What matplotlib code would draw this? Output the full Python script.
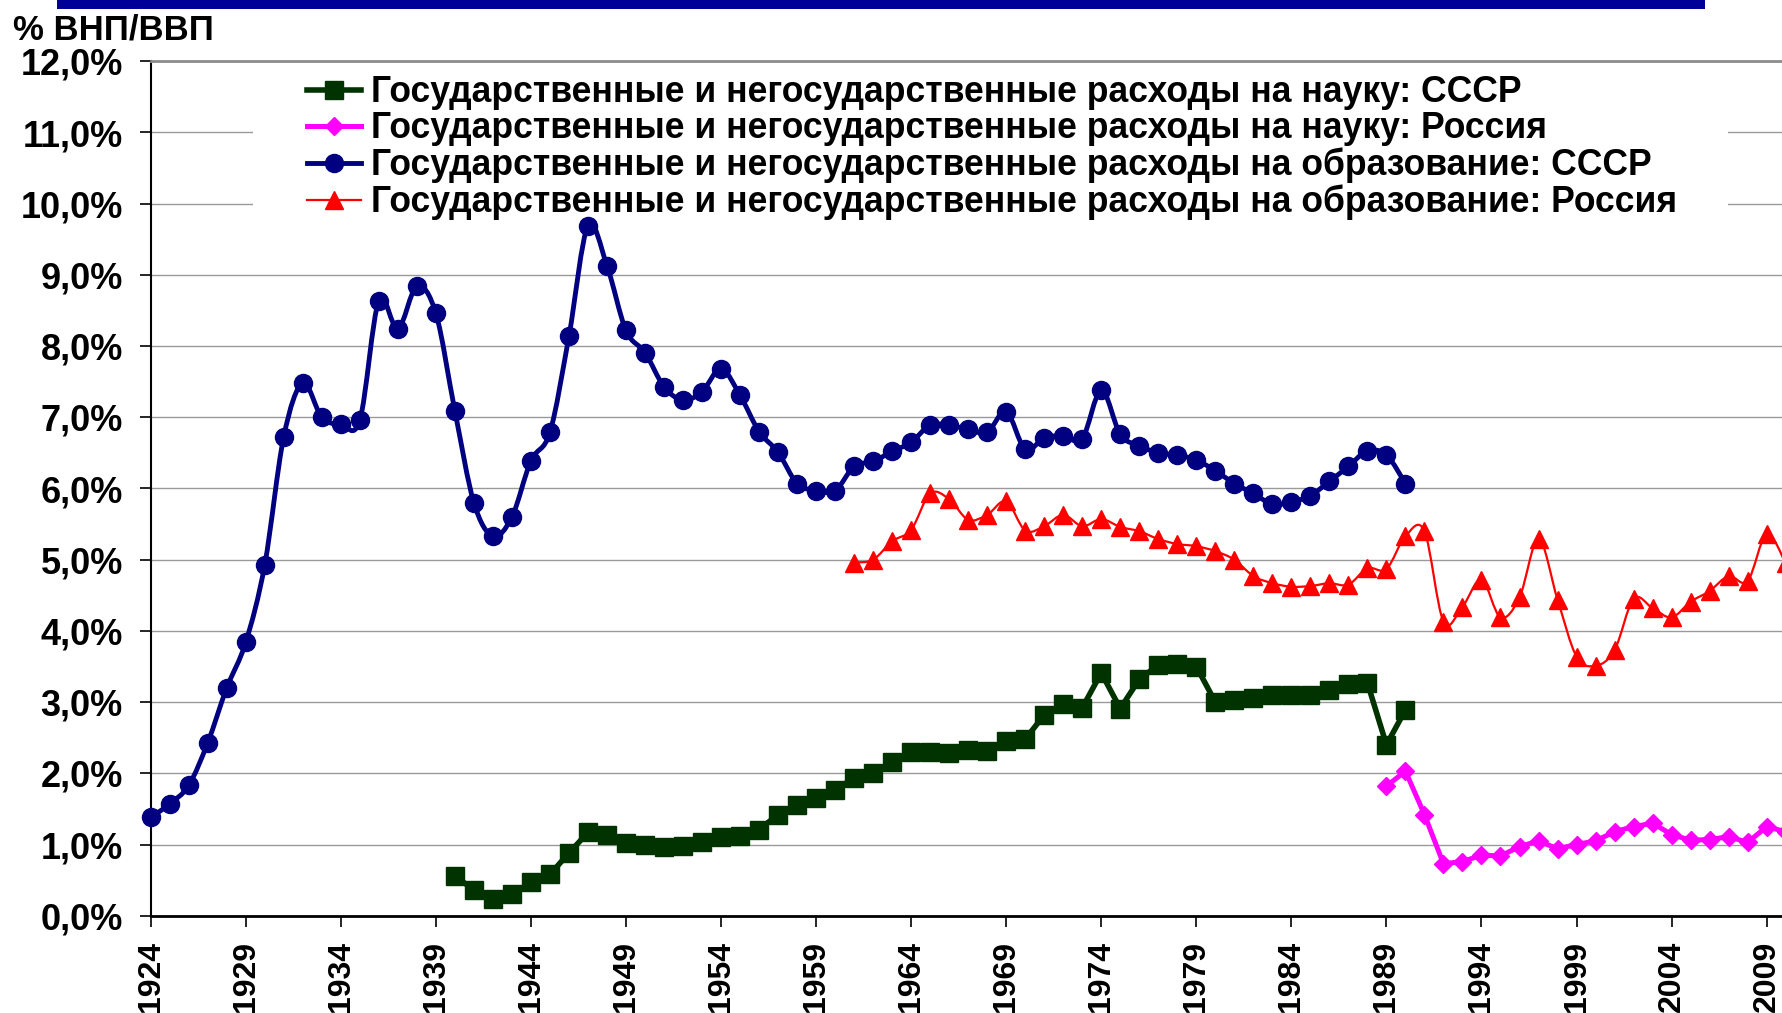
import numpy as np
import matplotlib
matplotlib.use('Agg')
import matplotlib.pyplot as plt
from matplotlib.path import Path
from matplotlib.patches import PathPatch, Rectangle
from matplotlib.lines import Line2D

plt.rcParams['font.family'] = ['Liberation Sans', 'DejaVu Sans']
plt.rcParams['font.weight'] = 'bold'

# --- data (% of GNP/GDP) ---
edu_ussr_years = list(range(1924, 1991))
edu_ussr = [1.38, 1.57, 1.83, 2.43, 3.20, 3.84, 4.93, 6.73, 7.48, 7.00,
            6.90, 6.96, 8.64, 8.24, 8.84, 8.46, 7.09, 5.80, 5.33, 5.60,
            6.39, 6.79, 8.14, 9.69, 9.13, 8.22, 7.91, 7.43, 7.24, 7.36,
            7.68, 7.31, 6.80, 6.51, 6.07, 5.97, 5.97, 6.31, 6.38, 6.52,
            6.65, 6.89, 6.89, 6.83, 6.79, 7.08, 6.55, 6.71, 6.74, 6.70,
            7.38, 6.76, 6.60, 6.50, 6.47, 6.40, 6.25, 6.07, 5.93, 5.78,
            5.81, 5.90, 6.10, 6.31, 6.53, 6.47, 6.07]

edu_rus_years = list(range(1961, 2011))
edu_rus = [4.96, 5.00, 5.26, 5.42, 5.93, 5.85, 5.56, 5.63, 5.82, 5.41,
           5.47, 5.63, 5.47, 5.57, 5.46, 5.40, 5.29, 5.22, 5.19, 5.12,
           5.00, 4.77, 4.67, 4.62, 4.63, 4.67, 4.65, 4.88, 4.87, 5.33,
           5.40, 4.13, 4.34, 4.72, 4.19, 4.47, 5.29, 4.44, 3.64, 3.51,
           3.73, 4.45, 4.32, 4.19, 4.41, 4.56, 4.77, 4.70, 5.36, 4.95]

sci_ussr_years = list(range(1940, 1991))
sci_ussr = [0.56, 0.36, 0.24, 0.30, 0.47, 0.58, 0.88, 1.17, 1.13, 1.02,
            0.99, 0.96, 0.98, 1.04, 1.11, 1.12, 1.21, 1.42, 1.56, 1.65,
            1.76, 1.94, 2.00, 2.16, 2.30, 2.30, 2.28, 2.33, 2.32, 2.46,
            2.48, 2.82, 2.97, 2.92, 3.41, 2.91, 3.32, 3.52, 3.54, 3.50,
            3.00, 3.03, 3.06, 3.10, 3.10, 3.10, 3.17, 3.26, 3.27, 2.40,
            2.89]

sci_rus_years = list(range(1989, 2011))
sci_rus = [1.82, 2.03, 1.42, 0.73, 0.76, 0.85, 0.84, 0.97, 1.05, 0.94,
           1.00, 1.05, 1.18, 1.25, 1.30, 1.14, 1.06, 1.07, 1.11, 1.03,
           1.25, 1.18]

labels = [
    'Государственные и негосударственные расходы на науку: СССР',
    'Государственные и негосударственные расходы на науку: Россия',
    'Государственные и негосударственные расходы на образование: СССР',
    'Государственные и негосударственные расходы на образование: Россия',
]
tick_years = list(range(1924, 2010, 5))


def smooth_path(x, y):
    # Excel-like smoothed line: cubic Bezier segments through the points
    x = np.asarray(x, float)
    y = np.asarray(y, float)
    n = len(x)
    verts = [(x[0], y[0])]
    codes = [Path.MOVETO]
    for i in range(n - 1):
        xp, yp = (x[i - 1], y[i - 1]) if i > 0 else (x[i], y[i])
        xn, yn = (x[i + 2], y[i + 2]) if i + 2 < n else (x[i + 1], y[i + 1])
        c1 = (x[i] + (x[i + 1] - xp) / 6, y[i] + (y[i + 1] - yp) / 6)
        c2 = (x[i + 1] - (xn - x[i]) / 6, y[i + 1] - (yn - y[i]) / 6)
        verts += [c1, c2, (x[i + 1], y[i + 1])]
        codes += [Path.CURVE4] * 3
    return Path(verts, codes)


W, H = 1783, 1013
fig = plt.figure(figsize=(W / 100, H / 100), dpi=100)
x0, ybot, ytop = 150.7, 915.7, 61.3
ax = fig.add_axes([x0 / W, 1 - ybot / H, 1 - x0 / W, (ybot - ytop) / H])

c_blue, c_red, c_green, c_mag = '#000080', '#ff0000', '#003300', '#ff00ff'

# education USSR (smoothed)
ax.add_patch(PathPatch(smooth_path(edu_ussr_years, edu_ussr), fc='none', ec=c_blue,
                       lw=3.5, capstyle='round', joinstyle='round', zorder=3, clip_on=False))
ax.plot(edu_ussr_years, edu_ussr, ls='none', marker='o', ms=13, color=c_blue,
        zorder=4, clip_on=False)

# education Russia (smoothed)
ax.add_patch(PathPatch(smooth_path(edu_rus_years, edu_rus), fc='none', ec=c_red,
                       lw=1.6, capstyle='round', joinstyle='round', zorder=3, clip_on=False))
ax.plot(edu_rus_years, edu_rus, ls='none', marker='^', ms=13, color=c_red,
        zorder=4, clip_on=False)

# science USSR
ax.plot(sci_ussr_years, sci_ussr, color=c_green, lw=4.0, marker='s', ms=12.5,
        zorder=4, clip_on=False, solid_joinstyle='round')

# science Russia
ax.plot(sci_rus_years, sci_rus, color=c_mag, lw=3.6, marker='D', ms=9.5,
        zorder=4, clip_on=False, solid_joinstyle='round')

ax.set_xlim(1924, 2009.86)
ax.set_ylim(0, 12)
ax.set_xticks(tick_years)
ax.set_xticklabels([str(t) for t in tick_years], rotation=90)
ax.set_yticks(range(0, 13))
ax.set_yticklabels([f'{v:.1f}'.replace('.', ',') + '%' for v in range(0, 13)])

ax.yaxis.grid(True, color='#9a9a9a', lw=1.0)
ax.set_axisbelow(True)
ax.spines['right'].set_visible(False)
ax.spines['top'].set_color('#8c8c8c')
ax.spines['top'].set_linewidth(2)
ax.spines['left'].set_linewidth(1.5)
ax.spines['bottom'].set_linewidth(2)
ax.tick_params(axis='both', direction='out', length=8, width=1.2, colors='black')
ax.tick_params(axis='x', labelsize=23, pad=10)
ax.tick_params(axis='y', labelsize=26, pad=12)

# legend background hides the gridlines behind it
ax.add_patch(Rectangle((0.0627, 0.808), 0.9035, 0.184, transform=ax.transAxes,
                       fc='white', ec='none', zorder=1))
handles = [
    Line2D([], [], color=c_green, lw=4.0, marker='s', ms=12.5),
    Line2D([], [], color=c_mag, lw=3.6, marker='D', ms=9.5),
    Line2D([], [], color=c_blue, lw=3.5, marker='o', ms=13),
    Line2D([], [], color=c_red, lw=1.6, marker='^', ms=13),
]
leg = ax.legend(handles, labels, loc='upper left', bbox_to_anchor=(0.0958, 0.984),
                frameon=False, borderpad=0, borderaxespad=0, handlelength=1.52,
                handletextpad=0.28, labelspacing=0.04,
                prop={'size': 25.6, 'weight': 'bold'})
leg.set_zorder(6)

fig.text(13 / W, 1 - 39 / H, '% ВНП/ВВП', fontsize=25, fontweight='bold',
         ha='left', va='baseline')
fig.add_artist(Rectangle((57 / W, 1 - 9.5 / H), (1705 - 57) / W, 9.5 / H,
                         transform=fig.transFigure, fc='#000099', ec='none'))

fig.savefig('out.png', dpi=100)
